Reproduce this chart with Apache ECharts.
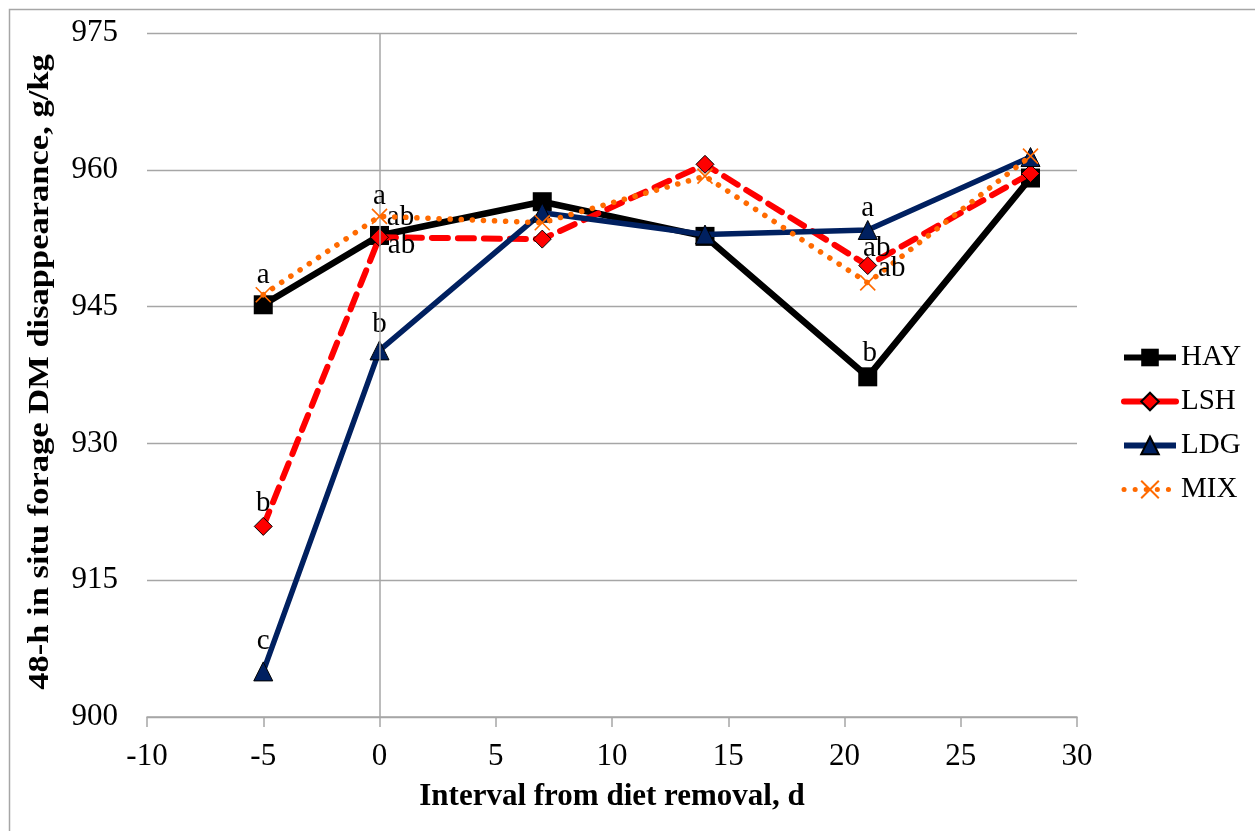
<!DOCTYPE html>
<html>
<head>
<meta charset="utf-8">
<script src="https://cdn.jsdelivr.net/npm/echarts@6/dist/echarts.min.js"></script>
<style>
html,body{margin:0;padding:0;background:#fff;}
#chart{width:1255px;height:831px;}
</style>
</head>
<body>
<div id="chart"></div>
<script>
// ---- data ----
const days = [-5, 0, 7, 14, 21, 28];
const seriesNames = ['HAY', 'LSH', 'LDG', 'MIX'];
const hay = [945.2, 952.8, 956.5, 952.7, 937.3, 959.1];
const lsh = [920.9, 952.6, 952.4, 960.6, 949.5, 959.6];
const ldg = [905.0, 940.2, 955.3, 952.9, 953.4, 961.4];
const mix = [946.3, 954.9, 954.2, 959.3, 947.6, 961.5];
const hayLetters = ['', 'ab', '', '', 'b', ''];
const lshLetters = ['b', 'ab', '', '', 'ab', ''];
const ldgLetters = ['c', 'b', '', '', 'a', ''];
const mixLetters = ['a', 'a', '', '', 'ab', ''];
const xTitle = 'Interval from diet removal, d';
const yTitle = '48-h in situ forage DM disappearance, g/kg';

// ---- styling (positions of significance letters relative to their point) ----
const letterOffsets = {
  HAY: {1: [21, -18.5], 4: [2, -23.5]},
  LSH: {0: [0, -23.5], 1: [22, 8], 4: [9, -17.5]},
  LDG: {0: [0, -30.5], 1: [0, -26], 4: [0, -21.5]},
  MIX: {0: [0, -19.5], 1: [0, -19.5], 4: [24, -14.5]}
};
const FONT = '"Liberation Serif", "Times New Roman", serif';

function buildData(name, vals, letters) {
  return days.map((d, i) => {
    const item = {value: [d, vals[i]]};
    if (letters[i]) {
      item.label = {
        show: true,
        formatter: letters[i],
        position: 'inside',
        offset: (letterOffsets[name] && letterOffsets[name][i]) || [0, -20],
        color: '#000',
        fontFamily: FONT,
        fontSize: 29
      };
    }
    return item;
  });
}

const chart = echarts.init(document.getElementById('chart'), null, {renderer: 'canvas'});
const option = {
  animation: false,
  backgroundColor: '#fff',
  grid: {left: 147, right: 178, top: 33, bottom: 114, containLabel: false},
  xAxis: {
    type: 'value', min: -10, max: 30, interval: 5,
    name: xTitle, nameLocation: 'middle', nameGap: 64,
    nameTextStyle: {fontFamily: FONT, fontSize: 31, fontWeight: 'bold', color: '#000'},
    axisLine: {show: true, onZero: false, lineStyle: {color: '#A6A6A6', width: 1.5}},
    axisTick: {show: true, inside: false, length: 10, lineStyle: {color: '#A6A6A6', width: 1.5}},
    axisLabel: {fontFamily: FONT, fontSize: 31, color: '#000', margin: 24},
    splitLine: {show: false}
  },
  yAxis: {
    type: 'value', min: 900, max: 975, interval: 15,
    axisLine: {show: false},
    axisTick: {show: false},
    axisLabel: {fontFamily: FONT, fontSize: 31, color: '#000', margin: 29},
    splitLine: {show: true, lineStyle: {color: '#A6A6A6', width: 1.3}}
  },
  legend: {
    orient: 'vertical', left: 1116, top: 338,
    itemWidth: 52, itemHeight: 22, itemGap: 15,
    textStyle: {fontFamily: FONT, fontSize: 29, color: '#000', padding: [0, 0, 0, 0]},
    data: [
      {name: 'HAY', lineStyle: {width: 6}},
      {name: 'LSH', lineStyle: {width: 6, type: 'solid'}},
      {name: 'LDG', lineStyle: {width: 6}},
      {name: 'MIX', lineStyle: {width: 5}}
    ]
  },
  graphic: [
    {type: 'rect', left: 7, top: 7, shape: {width: 1247, height: 840},
     style: {fill: 'none', stroke: '#A6A6A6', lineWidth: 1.5}, silent: true, z: -10},
    {type: 'text', x: 40, y: 372, rotation: Math.PI / 2, scaleX: 1.15,
     style: {text: yTitle, fontFamily: FONT, fontSize: 30, fontWeight: 'bold', fill: '#000',
             align: 'center', verticalAlign: 'middle'}, silent: true}
  ],
  series: [
    {
      name: 'HAY', type: 'line', data: buildData('HAY', hay, hayLetters),
      symbol: 'rect', symbolSize: 19, color: '#000',
      lineStyle: {color: '#000', width: 6.5},
      itemStyle: {color: '#000', borderColor: '#000', borderWidth: 0},
      markLine: {
        silent: true, symbol: 'none', label: {show: false},
        lineStyle: {color: '#A6A6A6', width: 1.5, type: 'solid'},
        data: [{xAxis: 0}]
      },
      z: 2
    },
    {
      name: 'LSH', type: 'line', data: buildData('LSH', lsh, lshLetters),
      symbol: 'diamond', symbolSize: 18, color: '#FF0000',
      lineStyle: {color: '#FF0000', width: 6, type: [16, 10], cap: 'round'},
      itemStyle: {color: '#FF0000', borderColor: '#000', borderWidth: 1},
      z: 3
    },
    {
      name: 'LDG', type: 'line', data: buildData('LDG', ldg, ldgLetters),
      symbol: 'triangle', symbolSize: 19, color: '#002060',
      lineStyle: {color: '#002060', width: 5.5},
      itemStyle: {color: '#002060', borderColor: '#000', borderWidth: 1},
      z: 4
    },
    {
      name: 'MIX', type: 'line', data: buildData('MIX', mix, mixLetters),
      symbol: 'path://M0,0L10,10M10,0L0,10', symbolSize: 15, color: '#FF6A00',
      lineStyle: {color: '#FF6A00', width: 5.5, type: [0.1, 11], cap: 'round'},
      itemStyle: {color: '#FF6A00', borderColor: '#FF6A00', borderWidth: 1.6},
      z: 5
    }
  ]
};
chart.setOption(option);
</script>
</body>
</html>
